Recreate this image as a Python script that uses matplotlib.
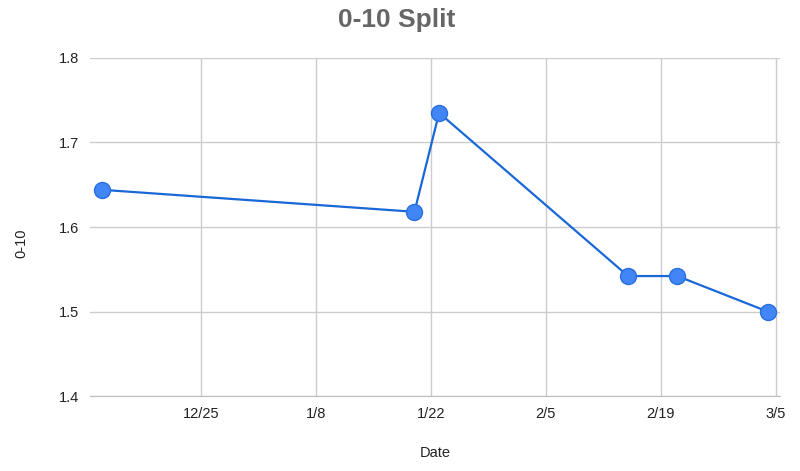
import pandas as pd
import matplotlib.pyplot as plt
import matplotlib.dates as mdates

plt.rcParams['font.family'] = ['Liberation Sans', 'DejaVu Sans']

dates = ["2020-12-13", "2021-01-20", "2021-01-23", "2021-02-15", "2021-02-21", "2021-03-04"]
split = [1.644, 1.618, 1.735, 1.542, 1.542, 1.500]
tick_dates = ["2020-12-25", "2021-01-08", "2021-01-22", "2021-02-05", "2021-02-19", "2021-03-05"]
tick_labels = ["12/25", "1/8", "1/22", "2/5", "2/19", "3/5"]
y_ticks = [1.4, 1.5, 1.6, 1.7, 1.8]

x = pd.to_datetime(dates)
ticks = pd.to_datetime(tick_dates)

fig = plt.figure(figsize=(8, 4.71), dpi=100)
ax = fig.add_axes([0.1125, 0.159, 0.8625, 0.718])

ax.plot(x, split, color="#1a67d8", linewidth=1.6, marker="o", markersize=11.5,
        markerfacecolor="#4285f4", markeredgecolor="#2a6ee0", markeredgewidth=1, zorder=3)

ax.set_xlim(pd.Timestamp("2020-12-11 12:00"), pd.Timestamp("2021-03-05 12:00"))
ax.set_ylim(1.4, 1.8)
ax.set_xticks(ticks)
ax.set_xticklabels(tick_labels)
ax.set_yticks(y_ticks)
ax.set_yticklabels([f"{v:.1f}" for v in y_ticks])

ax.grid(True, color="#cccccc", linewidth=1)
ax.set_axisbelow(True)
for s in ["top", "right", "left"]:
    ax.spines[s].set_visible(False)
ax.spines["bottom"].set_color("#bdbdbd")
ax.tick_params(length=0, labelsize=10.5, colors="#222222", pad=8)

ax.set_xlabel("Date", fontsize=10.5, color="#222222", labelpad=18)
fig.text(21 / 800, 1 - 243 / 471, "0-10", rotation=90, ha="center", va="center",
         fontsize=10.5, color="#222222")
fig.text(397 / 800, 1 - 20 / 471, "0-10 Split", ha="center", va="center", fontsize=19,
         fontweight="bold", color="#666666")

fig.savefig("out.png", dpi=100)
